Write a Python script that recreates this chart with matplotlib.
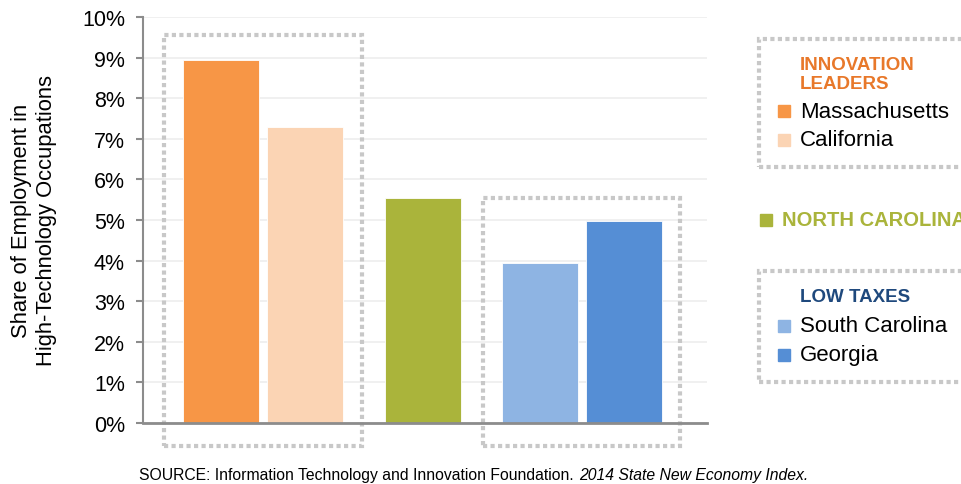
import matplotlib
matplotlib.use("Agg")
import matplotlib.pyplot as plt
from matplotlib.patches import Rectangle

plt.rcParams['font.family'] = ['Liberation Sans', 'DejaVu Sans']

states = ["Massachusetts", "California", "North Carolina", "South Carolina", "Georgia"]
shares = [8.95, 7.3, 5.54, 3.93, 4.97]
positions = [0, 1, 2.4, 3.8, 4.8]
colors = ["#F79646", "#FBD4B4", "#AAB43B", "#8EB4E3", "#558ED5"]
yticks = list(range(0, 11))
ytick_labels = [f"{v}%" for v in yticks]

W, H = 962, 485
fig = plt.figure(figsize=(W / 100, H / 100), dpi=100)


def fx(px):
    return px / W


def fy(py):
    return 1 - py / H


ax = fig.add_axes([fx(143), fy(424), fx(707) - fx(143), fy(18) - fy(424)])
ax.bar(positions, shares, width=0.905, color=colors, edgecolor="white", linewidth=0.6, zorder=3)
ax.set_xlim(-0.935, 5.788)
ax.set_ylim(0, 10)
ax.set_yticks(yticks)
ax.set_yticklabels(ytick_labels, fontsize=15.5)
ax.set_xticks([])
ax.yaxis.grid(True, color="#EEEEEE", linewidth=1.2, zorder=0)
for s in ["top", "right"]:
    ax.spines[s].set_visible(False)
ax.spines["left"].set_color("#8C8C8C")
ax.spines["left"].set_linewidth(1.5)
ax.spines["bottom"].set_color("#8C8C8C")
ax.spines["bottom"].set_linewidth(2)
ax.spines["bottom"].set_zorder(4)
ax.tick_params(axis="y", length=5, width=1.5, color="#8C8C8C", pad=8)
ax.set_ylabel("Share of Employment in\nHigh-Technology Occupations", fontsize=15.8, linespacing=1.25)
ax.yaxis.set_label_coords(-0.152, 0.5)

# dotted group outlines around the bars
dot = dict(fill=False, edgecolor="#C8C8C8", linewidth=3, linestyle=(0, (1, 0.8)), clip_on=False, zorder=2)
ax.add_patch(Rectangle((-0.685, -0.57), 2.358, 10.13, **dot))
ax.add_patch(Rectangle((3.113, -0.57), 2.357, 6.11, **dot))

# legend panels on the right
fig.add_artist(Rectangle((fx(759), fy(168)), fx(990) - fx(759), fy(40) - fy(168),
                         transform=fig.transFigure, **dot))
fig.add_artist(Rectangle((fx(759), fy(383)), fx(990) - fx(759), fy(272) - fy(383),
                         transform=fig.transFigure, **dot))


def swatch(x, y, color, size=12):
    fig.add_artist(Rectangle((fx(x), fy(y + size / 2)), size / W, size / H,
                             transform=fig.transFigure, color=color))


fig.text(fx(800), fy(75), "INNOVATION\nLEADERS", color="#E8782A", fontsize=13.5, fontweight="bold",
         va="center", linespacing=1.15)
swatch(778, 112, colors[0])
fig.text(fx(800), fy(112), states[0], fontsize=16, va="center")
swatch(778, 141, colors[1])
fig.text(fx(800), fy(141), states[1], fontsize=16, va="center")

swatch(760, 221, colors[2])
fig.text(fx(782), fy(221), states[2].upper(), color="#AAB43B", fontsize=14.5, fontweight="bold",
         va="center")

fig.text(fx(800), fy(297), "LOW TAXES", color="#1F497D", fontsize=13.5, fontweight="bold", va="center")
swatch(778, 327, colors[3])
fig.text(fx(800), fy(327), states[3], fontsize=16, va="center")
swatch(778, 356, colors[4])
fig.text(fx(800), fy(356), states[4], fontsize=16, va="center")

src = fig.text(fx(139), fy(476), "SOURCE: Information Technology and Innovation Foundation.", fontsize=11.3,
               va="center")
ax.annotate("2014 State New Economy Index.", xy=(1, 0.5), xycoords=src, xytext=(4, 0),
            textcoords="offset points", fontsize=11.3, style="italic", va="center")

fig.savefig("out.png", dpi=100)
